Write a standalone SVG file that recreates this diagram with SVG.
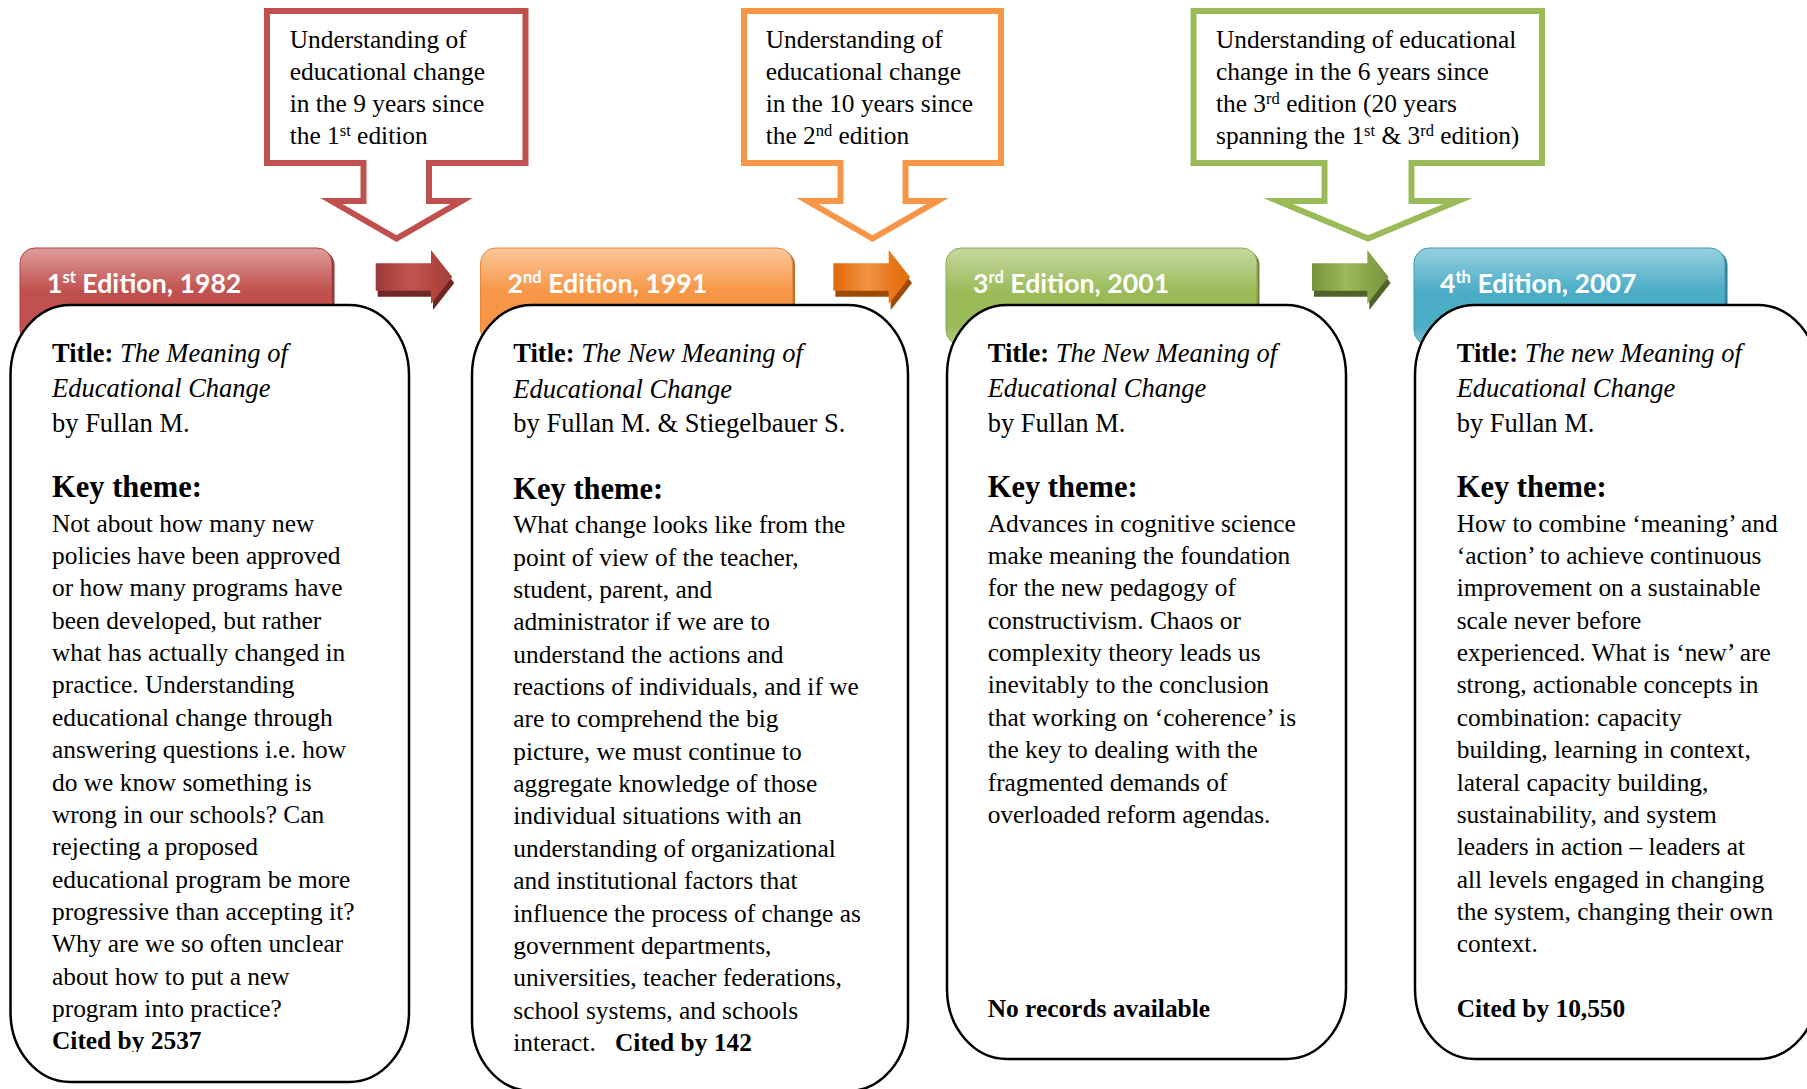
<svg xmlns="http://www.w3.org/2000/svg" width="1807" height="1089" viewBox="0 0 1807 1089">
  <defs>
    <style>
      .serif{font-family:"Liberation Serif","Times New Roman",serif;fill:#000}
      .body{font-size:25.4px}
      .ttl{font-size:26.5px}
      .key{font-size:30.5px;font-weight:bold}
      .b{font-weight:bold}
      .i{font-style:italic}
      .sup{font-size:16.5px}
      .tab-label{font-family:Lato,"Liberation Sans",sans-serif;font-weight:bold;font-size:26.7px;fill:#fff}
      .tab-sup{font-size:16.5px}
      .card{fill:#fff;stroke:#000;stroke-width:2.5}
      .callout{fill:#fff;stroke-width:6;stroke-linejoin:miter;stroke-miterlimit:10}
    </style>
    <!-- header tab fills -->
    <linearGradient id="tabRed" x1="0" y1="0" x2="0" y2="1">
      <stop offset="0" stop-color="#dd9d9b"/><stop offset="0.45" stop-color="#c0504d"/>
      <stop offset="0.8" stop-color="#c0504d"/><stop offset="1" stop-color="#d58a88"/>
    </linearGradient>
    <linearGradient id="tabOrange" x1="0" y1="0" x2="0" y2="1">
      <stop offset="0" stop-color="#fbc69a"/><stop offset="0.45" stop-color="#f79646"/>
      <stop offset="0.8" stop-color="#f79646"/><stop offset="1" stop-color="#fab077"/>
    </linearGradient>
    <linearGradient id="tabGreen" x1="0" y1="0" x2="0" y2="1">
      <stop offset="0" stop-color="#c6d9a0"/><stop offset="0.45" stop-color="#9bbb59"/>
      <stop offset="0.8" stop-color="#9bbb59"/><stop offset="1" stop-color="#b5cf85"/>
    </linearGradient>
    <linearGradient id="tabAqua" x1="0" y1="0" x2="0" y2="1">
      <stop offset="0" stop-color="#96d0df"/><stop offset="0.45" stop-color="#4bacc6"/>
      <stop offset="0.8" stop-color="#4bacc6"/><stop offset="1" stop-color="#7fc3d6"/>
    </linearGradient>
    <!-- block arrow fills -->
    <linearGradient id="arRed" x1="0" y1="0" x2="1" y2="0">
      <stop offset="0" stop-color="#983a38"/><stop offset="0.45" stop-color="#c4534f"/>
      <stop offset="0.75" stop-color="#b4463f"/><stop offset="1" stop-color="#a23f3c"/>
    </linearGradient>
    <linearGradient id="arOrange" x1="0" y1="0" x2="1" y2="0">
      <stop offset="0" stop-color="#df680a"/><stop offset="0.45" stop-color="#f29444"/>
      <stop offset="0.75" stop-color="#e8781c"/><stop offset="1" stop-color="#e36c09"/>
    </linearGradient>
    <linearGradient id="arGreen" x1="0" y1="0" x2="1" y2="0">
      <stop offset="0" stop-color="#76923c"/><stop offset="0.45" stop-color="#9bbb59"/>
      <stop offset="0.75" stop-color="#87a548"/><stop offset="1" stop-color="#78943d"/>
    </linearGradient>
    <path id="blk" d="M0,13.3 H55.3 V0 L76.6,27 L55.3,54 V40.7 H0 Z"/>
    <clipPath id="clip-card1"><rect x="0" y="300" width="420" height="752"/></clipPath>
  </defs>

  <rect width="1807" height="1089" fill="#fff"/>

  <!-- 1st edition -->
  <g id="edition-1">
    <rect x="22.5" y="250" width="312" height="97" rx="15" fill="#8c3836"/>
    <rect x="20" y="248" width="312" height="97" rx="15" fill="url(#tabRed)" stroke="#b4423f" stroke-width="1"/>
    <text class="tab-label" x="47" y="292.7">1<tspan class="tab-sup" dy="-10">st</tspan><tspan dy="10"> Edition, 1982</tspan></text>
    <rect class="card" x="10.5" y="305" width="398.5" height="777" rx="60" ry="70"/>
    <g class="serif" clip-path="url(#clip-card1)">
      <text class="ttl" x="52" y="362"><tspan class="b">Title:</tspan> <tspan class="i">The Meaning of</tspan></text>
      <text class="ttl i" x="52" y="397">Educational Change</text>
      <text class="ttl" x="52" y="432">by Fullan M.</text>
      <text class="key" x="52" y="497">Key theme:</text>
      <text class="body" x="52">
        <tspan x="52" y="531.7">Not about how many new</tspan>
        <tspan x="52" y="564">policies have been approved</tspan>
        <tspan x="52" y="596.4">or how many programs have</tspan>
        <tspan x="52" y="628.7">been developed, but rather</tspan>
        <tspan x="52" y="661.1">what has actually changed in</tspan>
        <tspan x="52" y="693.4">practice. Understanding</tspan>
        <tspan x="52" y="725.8">educational change through</tspan>
        <tspan x="52" y="758.1">answering questions i.e. how</tspan>
        <tspan x="52" y="790.5">do we know something is</tspan>
        <tspan x="52" y="822.8">wrong in our schools? Can</tspan>
        <tspan x="52" y="855.2">rejecting a proposed</tspan>
        <tspan x="52" y="887.5">educational program be more</tspan>
        <tspan x="52" y="919.9">progressive than accepting it?</tspan>
        <tspan x="52" y="952.2">Why are we so often unclear</tspan>
        <tspan x="52" y="984.6">about how to put a new</tspan>
        <tspan x="52" y="1016.9">program into practice?</tspan>
        <tspan x="52" y="1049.3" class="b">Cited by 2537</tspan>
      </text>
    </g>
  </g>

  <!-- 2nd edition -->
  <g id="edition-2">
    <rect x="483" y="250" width="312" height="97" rx="15" fill="#b66d31"/>
    <rect x="480.5" y="248" width="312" height="97" rx="15" fill="url(#tabOrange)" stroke="#e8883a" stroke-width="1"/>
    <text class="tab-label" x="507.5" y="292.7">2<tspan class="tab-sup" dy="-10">nd</tspan><tspan dy="10"> Edition, 1991</tspan></text>
    <rect class="card" x="472" y="305" width="436" height="786" rx="60" ry="70"/>
    <g class="serif">
      <text class="ttl" x="513.3" y="362.3"><tspan class="b">Title:</tspan> <tspan class="i">The New Meaning of</tspan></text>
      <text class="ttl i" x="513.3" y="398">Educational Change</text>
      <text class="ttl" x="513.3" y="432">by Fullan M. &amp; Stiegelbauer S.</text>
      <text class="key" x="513.3" y="499">Key theme:</text>
      <text class="body" x="513.3">
        <tspan x="513.3" y="533.3">What change looks like from the</tspan>
        <tspan x="513.3" y="565.6">point of view of the teacher,</tspan>
        <tspan x="513.3" y="598">student, parent, and</tspan>
        <tspan x="513.3" y="630.3">administrator if we are to</tspan>
        <tspan x="513.3" y="662.7">understand the actions and</tspan>
        <tspan x="513.3" y="695">reactions of individuals, and if we</tspan>
        <tspan x="513.3" y="727.4">are to comprehend the big</tspan>
        <tspan x="513.3" y="759.7">picture, we must continue to</tspan>
        <tspan x="513.3" y="792.1">aggregate knowledge of those</tspan>
        <tspan x="513.3" y="824.4">individual situations with an</tspan>
        <tspan x="513.3" y="856.8">understanding of organizational</tspan>
        <tspan x="513.3" y="889.1">and institutional factors that</tspan>
        <tspan x="513.3" y="921.5">influence the process of change as</tspan>
        <tspan x="513.3" y="953.8">government departments,</tspan>
        <tspan x="513.3" y="986.2">universities, teacher federations,</tspan>
        <tspan x="513.3" y="1018.5">school systems, and schools</tspan>
        <tspan x="513.3" y="1050.9">interact.</tspan><tspan x="615" y="1050.9" class="b">Cited by 142</tspan>
      </text>
    </g>
  </g>

  <!-- 3rd edition -->
  <g id="edition-3">
    <rect x="948.5" y="250" width="311" height="97" rx="15" fill="#71893f"/>
    <rect x="946" y="248" width="311" height="97" rx="15" fill="url(#tabGreen)" stroke="#8aab4b" stroke-width="1"/>
    <text class="tab-label" x="973" y="292.7">3<tspan class="tab-sup" dy="-10">rd</tspan><tspan dy="10"> Edition, 2001</tspan></text>
    <rect class="card" x="947" y="305" width="399" height="754" rx="60" ry="70"/>
    <g class="serif">
      <text class="ttl" x="987.7" y="362"><tspan class="b">Title:</tspan> <tspan class="i">The New Meaning of</tspan></text>
      <text class="ttl i" x="987.7" y="397">Educational Change</text>
      <text class="ttl" x="987.7" y="432">by Fullan M.</text>
      <text class="key" x="987.7" y="497">Key theme:</text>
      <text class="body" x="987.7">
        <tspan x="987.7" y="531.7">Advances in cognitive science</tspan>
        <tspan x="987.7" y="564">make meaning the foundation</tspan>
        <tspan x="987.7" y="596.4">for the new pedagogy of</tspan>
        <tspan x="987.7" y="628.7">constructivism. Chaos or</tspan>
        <tspan x="987.7" y="661.1">complexity theory leads us</tspan>
        <tspan x="987.7" y="693.4">inevitably to the conclusion</tspan>
        <tspan x="987.7" y="725.8">that working on ‘coherence’ is</tspan>
        <tspan x="987.7" y="758.1">the key to dealing with the</tspan>
        <tspan x="987.7" y="790.5">fragmented demands of</tspan>
        <tspan x="987.7" y="822.8">overloaded reform agendas.</tspan>
        <tspan x="987.7" y="1016.9" class="b">No records available</tspan>
      </text>
    </g>
  </g>

  <!-- 4th edition -->
  <g id="edition-4">
    <rect x="1416.5" y="250" width="311" height="97" rx="15" fill="#357d91"/>
    <rect x="1414" y="248" width="311" height="97" rx="15" fill="url(#tabAqua)" stroke="#3f9bb4" stroke-width="1"/>
    <text class="tab-label" x="1440" y="292.7">4<tspan class="tab-sup" dy="-10">th</tspan><tspan dy="10"> Edition, 2007</tspan></text>
    <rect class="card" x="1415" y="305" width="403" height="754" rx="60" ry="70"/>
    <g class="serif">
      <text class="ttl" x="1456.7" y="362"><tspan class="b">Title:</tspan> <tspan class="i">The new Meaning of</tspan></text>
      <text class="ttl i" x="1456.7" y="397">Educational Change</text>
      <text class="ttl" x="1456.7" y="432">by Fullan M.</text>
      <text class="key" x="1456.7" y="497">Key theme:</text>
      <text class="body" x="1456.7">
        <tspan x="1456.7" y="531.7">How to combine ‘meaning’ and</tspan>
        <tspan x="1456.7" y="564">‘action’ to achieve continuous</tspan>
        <tspan x="1456.7" y="596.4">improvement on a sustainable</tspan>
        <tspan x="1456.7" y="628.7">scale never before</tspan>
        <tspan x="1456.7" y="661.1">experienced. What is ‘new’ are</tspan>
        <tspan x="1456.7" y="693.4">strong, actionable concepts in</tspan>
        <tspan x="1456.7" y="725.8">combination: capacity</tspan>
        <tspan x="1456.7" y="758.1">building, learning in context,</tspan>
        <tspan x="1456.7" y="790.5">lateral capacity building,</tspan>
        <tspan x="1456.7" y="822.8">sustainability, and system</tspan>
        <tspan x="1456.7" y="855.2">leaders in action – leaders at</tspan>
        <tspan x="1456.7" y="887.5">all levels engaged in changing</tspan>
        <tspan x="1456.7" y="919.9">the system, changing their own</tspan>
        <tspan x="1456.7" y="952.2">context.</tspan>
        <tspan x="1456.7" y="1016.9" class="b">Cited by 10,550</tspan>
      </text>
    </g>
  </g>

  <!-- block arrows between editions -->
  <g id="connectors">
    <g id="arrow-1-2">
      <use href="#blk" transform="translate(377.7,256)" fill="#6f2624"/>
      <use href="#blk" transform="translate(375.7,250)" fill="url(#arRed)"/>
    </g>
    <g id="arrow-2-3">
      <use href="#blk" transform="translate(835.4,256)" fill="#9c4a06"/>
      <use href="#blk" transform="translate(833.4,250)" fill="url(#arOrange)"/>
    </g>
    <g id="arrow-3-4">
      <use href="#blk" transform="translate(1314,256)" fill="#4f6228"/>
      <use href="#blk" transform="translate(1312,250)" fill="url(#arGreen)"/>
    </g>
  </g>

  <!-- down-arrow callouts -->
  <g id="callout-1">
    <path class="callout" stroke="#c0504d" d="M267,11 H525.5 V163 H429 V201 H461.5 L396.5,238.5 L331.5,201 H363.5 V163 H267 Z"/>
    <text class="serif body">
      <tspan x="289.7" y="47.7">Understanding of</tspan>
      <tspan x="289.7" y="79.9">educational change</tspan>
      <tspan x="289.7" y="112.1">in the 9 years since</tspan>
      <tspan x="289.7" y="144.3">the 1</tspan><tspan class="sup" dy="-8.5">st</tspan><tspan dy="8.5"> edition</tspan>
    </text>
  </g>

  <g id="callout-2">
    <path class="callout" stroke="#f79646" d="M744,11 H1001 V163 H905.5 V201 H937.5 L872.5,238.5 L807.5,201 H840.5 V163 H744 Z"/>
    <text class="serif body">
      <tspan x="765.7" y="47.7">Understanding of</tspan>
      <tspan x="765.7" y="79.9">educational change</tspan>
      <tspan x="765.7" y="112.1">in the 10 years since</tspan>
      <tspan x="765.7" y="144.3">the 2</tspan><tspan class="sup" dy="-8.5">nd</tspan><tspan dy="8.5"> edition</tspan>
    </text>
  </g>

  <g id="callout-3">
    <path class="callout" stroke="#9bbb59" d="M1193.5,11 H1542 V163 H1411.5 V201 H1458 L1368,238.5 L1278,201 H1324.5 V163 H1193.5 Z"/>
    <text class="serif body">
      <tspan x="1216" y="47.7">Understanding of educational</tspan>
      <tspan x="1216" y="79.9">change in the 6 years since</tspan>
      <tspan x="1216" y="112.1">the 3</tspan><tspan class="sup" dy="-8.5">rd</tspan><tspan dy="8.5"> edition (20 years</tspan>
      <tspan x="1216" y="144.3">spanning the 1</tspan><tspan class="sup" dy="-8.5">st</tspan><tspan dy="8.5"> &amp; 3</tspan><tspan class="sup" dy="-8.5">rd</tspan><tspan dy="8.5"> edition)</tspan>
    </text>
  </g>
</svg>
